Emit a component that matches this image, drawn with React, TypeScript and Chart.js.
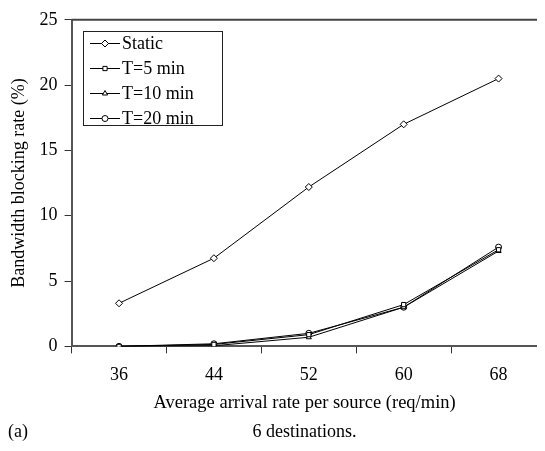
import React, { useEffect, useRef } from "react";
import { Chart, registerables } from "chart.js";
import { drawPoint } from "chart.js/helpers";

Chart.register(...registerables);

const categories = ["36", "44", "52", "60", "68"];
const seriesNames = ["Static", "T=5 min", "T=10 min", "T=20 min"];
const staticValues = [3.3, 6.75, 12.2, 17.0, 20.5];
const t5Values = [0, 0.15, 0.9, 3.2, 7.4];
const t10Values = [0, 0.05, 0.7, 3.0, 7.3];
const t20Values = [0, 0.2, 1.0, 3.0, 7.6];
const yTicks = [0, 5, 10, 15, 20, 25];
const pointStyles = ["rectRot", "rect", "triangle", "circle"];
const xTitle = "Average arrival rate per source (req/min)";
const yTitle = "Bandwidth blocking rate (%)";
const captionLeft = "(a)";
const captionCenter = "6 destinations.";

const FONT = "'Liberation Serif', 'DejaVu Serif', serif";
const SHIFT = 6; // canvas is pulled up by this many pixels

const legendPlugin = {
  id: "insideLegend",
  afterDraw(chart: any) {
    const ctx = chart.ctx;
    const left = 75;
    const top = 23 + SHIFT;
    const w = 139;
    const h = 94;
    ctx.save();
    ctx.fillStyle = "#fff";
    ctx.fillRect(left, top, w, h);
    ctx.strokeStyle = "#222";
    ctx.lineWidth = 1;
    ctx.strokeRect(left + 0.5, top + 0.5, w, h);
    ctx.font = `18px ${FONT}`;
    ctx.textBaseline = "middle";
    chart.data.datasets.forEach((ds: any, i: number) => {
      const y = top + 12 + i * 25;
      ctx.strokeStyle = "#000";
      ctx.lineWidth = 1;
      ctx.beginPath();
      ctx.moveTo(left + 7, y + 0.5);
      ctx.lineTo(left + 37, y + 0.5);
      ctx.stroke();
      ctx.fillStyle = "#fff";
      ctx.strokeStyle = "#000";
      drawPoint(ctx, { pointStyle: ds.pointStyle, radius: ds.pointRadius, borderWidth: 1, rotation: 0 } as any, left + 22, y + 0.5);
      ctx.fillStyle = "#000";
      ctx.fillText(ds.label, left + 39, y + 1);
    });
    ctx.restore();
  },
};

const captionPlugin = {
  id: "caption",
  afterDraw(chart: any) {
    const ctx = chart.ctx;
    const area = chart.chartArea;
    const cx = area.left + 233;
    ctx.save();
    ctx.strokeStyle = "#444";
    ctx.lineWidth = 2;
    ctx.beginPath();
    ctx.moveTo(area.left, area.top);
    ctx.lineTo(chart.width, area.top);
    ctx.stroke();
    ctx.font = `18.5px ${FONT}`;
    ctx.fillStyle = "#000";
    ctx.textBaseline = "middle";
    ctx.textAlign = "center";
    ctx.fillText(xTitle, cx, area.bottom + 57);
    ctx.font = `18px ${FONT}`;
    ctx.textAlign = "left";
    ctx.fillText(captionLeft, 0, 424 + SHIFT);
    ctx.textAlign = "center";
    ctx.fillText(captionCenter, cx, 424 + SHIFT);
    ctx.restore();
  },
};

export default function App() {
  const ref = useRef<HTMLCanvasElement>(null);
  useEffect(() => {
    if (!ref.current) return;
    const mk = (i: number, data: number[]) => ({
      label: seriesNames[i],
      data,
      borderColor: "#000",
      borderWidth: 1,
      backgroundColor: "#fff",
      pointStyle: pointStyles[i],
      pointRadius: i === 0 ? 3.5 : 3,
      pointBorderColor: "#000",
      pointBackgroundColor: "#fff",
      pointBorderWidth: 1,
      tension: 0,
    });
    const chart = new Chart(ref.current, {
      type: "line",
      data: {
        labels: categories,
        datasets: [
          mk(0, staticValues),
          mk(1, t5Values),
          mk(2, t10Values),
          mk(3, t20Values),
        ],
      },
      options: {
        animation: false,
        responsive: false,
        layout: { padding: { left: 0, right: 0, top: 0, bottom: 46 } },
        plugins: { legend: { display: false }, tooltip: { enabled: false } },
        scales: {
          x: {
            type: "category",
            offset: true,
            grid: {
              offset: true,
              drawOnChartArea: false,
              drawTicks: true,
              tickLength: 7,
              color: "#333",
            },
            border: { display: true, color: "#555", width: 2 },
            ticks: { color: "#000", font: { family: FONT, size: 18 }, padding: 11 },
            title: { display: false },
          },
          y: {
            min: 0,
            max: 25,
            afterBuildTicks: (s: any) => {
              s.ticks = yTicks.map((v) => ({ value: v }));
            },
            grid: {
              drawOnChartArea: false,
              drawTicks: true,
              tickLength: 7,
              color: "#333",
            },
            border: { display: true, color: "#555", width: 2 },
            ticks: { color: "#000", font: { family: FONT, size: 18 }, padding: 7 },
            title: {
              display: true,
              text: yTitle,
              color: "#000",
              font: { family: FONT, size: 18 },
              padding: { top: 0, bottom: 3 },
            },
          },
        },
      },
      plugins: [legendPlugin, captionPlugin],
    } as any);
    return () => chart.destroy();
  }, []);
  return (
    <div style={{ width: 529, height: 435, overflow: "hidden" }}>
      <canvas
        ref={ref}
        width={543}
        height={435 + SHIFT}
        style={{ display: "block", marginTop: -SHIFT }}
      />
    </div>
  );
}
